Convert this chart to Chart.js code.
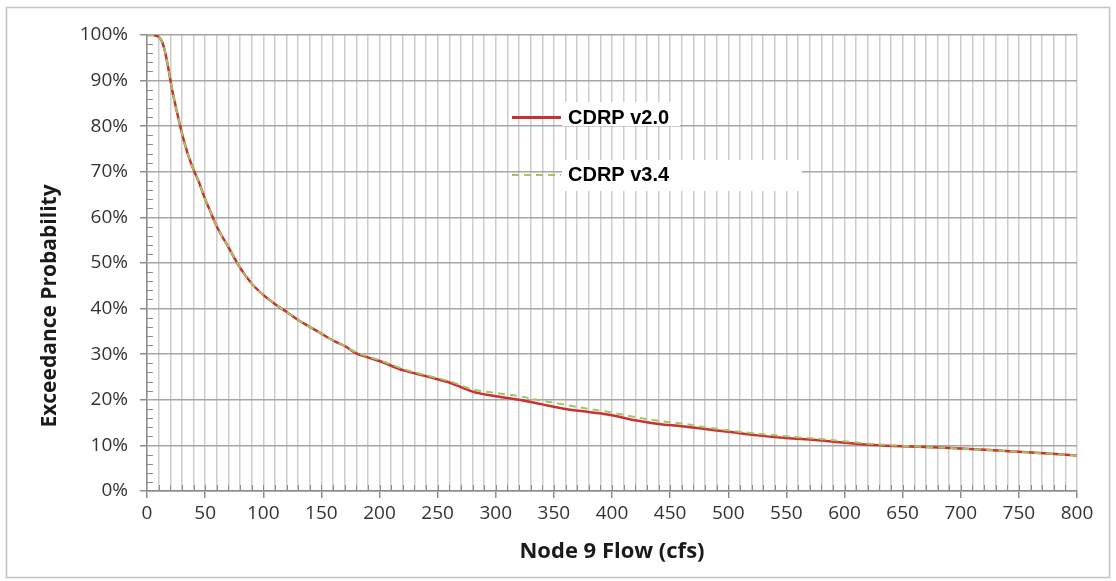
<!DOCTYPE html>
<html>
<head>
<meta charset="utf-8">
<script src="https://cdn.jsdelivr.net/npm/chart.js@4/dist/chart.umd.min.js"></script>
<style>
  html, body { margin: 0; padding: 0; background: #fff; }
  #wrap { width: 1116px; height: 581px; position: relative; }
</style>
</head>
<body>
<div id="wrap"><canvas id="flowChart"></canvas></div>
<script>
// flow (cfs) and exceedance probability (%)
var flow = [0, 5, 8, 10, 12, 14, 16, 18, 20, 22, 25, 30, 35, 40, 45, 50, 55, 60, 70, 80, 90, 100,
            110, 120, 130, 140, 150, 160, 170, 180, 190, 200, 220, 240, 260, 280, 300,
            320, 340, 360, 380, 400, 420, 440, 460, 480, 500, 525, 550, 575, 600, 625,
            650, 675, 700, 725, 750, 775, 800];

var cdrp20 = [100, 100, 99.8, 99.6, 99, 97.8, 95.8, 93.2, 90.3, 87.5, 84, 78.5, 74, 70.5, 67.5, 64, 61, 58, 53.5, 49, 45.5, 43,
              41, 39.3, 37.5, 36, 34.5, 33, 31.8, 30.2, 29.3, 28.5, 26.5, 25.2, 23.8, 21.8, 20.8,
              20, 19, 18, 17.3, 16.6, 15.5, 14.7, 14.2, 13.6, 13.0, 12.2, 11.6, 11.2, 10.6, 10.1,
              9.8, 9.6, 9.3, 9.0, 8.6, 8.2, 7.8];

var cdrp34 = [100, 100, 99.8, 99.6, 99, 97.8, 95.8, 93.2, 90.3, 87.5, 84, 78.5, 74, 70.5, 67.5, 64, 61, 58, 53.5, 49, 45.5, 43,
              41, 39.3, 37.5, 36, 34.5, 33, 31.8, 30.4, 29.5, 28.7, 26.8, 25.4, 24.1, 22.3, 21.5,
              20.8, 19.8, 18.9, 18.0, 17.2, 16.2, 15.4, 14.8, 14.0, 13.3, 12.6, 12.0, 11.5, 10.9, 10.3,
              9.9, 9.6, 9.3, 9.0, 8.6, 8.2, 7.8];

var seriesNames = ['CDRP v2.0', 'CDRP v3.4'];
var xTitle = 'Node 9 Flow (cfs)';
var yTitle = 'Exceedance Probability';

function pts(vals) {
    return flow.map(function(f, i) { return { x: f, y: vals[i] }; });
}

var RED = '#c83232';
var GREEN = '#a9c263';
var tickFont = { family: 'Open Sans', size: 19 };

var extras = {
    id: 'extras',
    afterDraw: function(chart) {
        var c = chart.ctx, xs = chart.scales.x, ys = chart.scales.y, a = chart.chartArea;
        c.save();
        // outer frame
        c.strokeStyle = '#c4c4c4';
        c.lineWidth = 1.5;
        c.strokeRect(6.5, 7.5, 1103, 570);

        // minor inward ticks
        c.strokeStyle = '#8c8c8c';
        c.lineWidth = 1;
        c.beginPath();
        for (var v = 2; v < 100; v += 2) {
            if (v % 10 === 0) continue;
            var py = Math.round(ys.getPixelForValue(v)) + 0.5;
            c.moveTo(a.left, py); c.lineTo(a.left + 6, py);
        }
        for (var f = 10; f < 800; f += 10) {
            var px = Math.round(xs.getPixelForValue(f)) + 0.5;
            c.moveTo(px, a.bottom); c.lineTo(px, a.bottom - 6);
        }
        c.stroke();

        // y title
        c.fillStyle = '#1a1a1a';
        c.font = 'bold 21px "Open Sans"';
        c.textAlign = 'center';
        c.textBaseline = 'middle';
        c.translate(50, 306);
        c.rotate(-Math.PI / 2);
        c.fillText(yTitle, 0, 0);
        c.restore();

        // legend
        c.save();
        c.fillStyle = '#ffffff';
        c.fillRect(562, 102, 118, 24);
        c.fillRect(562, 160, 240, 31);
        c.lineWidth = 3;
        c.strokeStyle = RED;
        c.beginPath(); c.moveTo(512, 117.5); c.lineTo(561, 117.5); c.stroke();
        c.lineWidth = 2;
        c.strokeStyle = GREEN;
        c.setLineDash([7, 5]);
        c.beginPath(); c.moveTo(512, 175); c.lineTo(561, 175); c.stroke();
        c.setLineDash([]);
        c.fillStyle = '#000';
        c.font = 'bold 20px "Liberation Sans"';
        c.textAlign = 'left';
        c.textBaseline = 'alphabetic';
        c.fillText(seriesNames[0], 568, 123.5);
        c.fillText(seriesNames[1], 568, 181);
        c.restore();
    }
};

new Chart(document.getElementById('flowChart'), {
    type: 'line',
    data: {
        datasets: [{
            label: seriesNames[1],
            data: pts(cdrp34),
            borderColor: GREEN,
            borderWidth: 2,
            borderDash: [7, 5],
            pointRadius: 0,
            cubicInterpolationMode: 'monotone',
            order: 0
        }, {
            label: seriesNames[0],
            data: pts(cdrp20),
            borderColor: RED,
            borderWidth: 2.5,
            pointRadius: 0,
            cubicInterpolationMode: 'monotone',
            order: 1
        }]
    },
    options: {
        responsive: true,
        maintainAspectRatio: false,
        animation: false,
        layout: { padding: { top: 35, right: 39, left: 0, bottom: 0 } },
        plugins: { legend: { display: false }, tooltip: { enabled: false } },
        scales: {
            x: {
                type: 'linear',
                min: 0, max: 800,
                afterFit: function(s) { s.height = 90; },
                ticks: {
                    stepSize: 10,
                    autoSkip: false,
                    maxRotation: 0,
                    padding: 4,
                    color: '#333',
                    font: tickFont,
                    callback: function(v) { return v % 50 === 0 ? v : ''; }
                },
                grid: {
                    color: '#cdcdcd',
                    lineWidth: 1.5,
                    tickLength: 7,
                    tickColor: function(ctx) { return ctx.tick && ctx.tick.value % 50 === 0 ? '#8c8c8c' : 'rgba(0,0,0,0)'; }
                },
                border: { color: '#8c8c8c', width: 1.5 },
                title: {
                    display: true,
                    text: xTitle,
                    color: '#1a1a1a',
                    font: { family: 'Open Sans', size: 22, weight: 'bold' },
                    padding: { top: 0, bottom: 16 }
                }
            },
            y: {
                min: 0, max: 100,
                afterFit: function(s) { s.width = 147; },
                ticks: {
                    stepSize: 10,
                    padding: 12,
                    color: '#333',
                    font: tickFont,
                    callback: function(v) { return v + '%'; }
                },
                grid: {
                    color: '#a6a6a6',
                    lineWidth: 1.5,
                    tickLength: 7,
                    tickColor: '#8c8c8c'
                },
                border: { color: '#8c8c8c', width: 1.5 }
            }
        }
    },
    plugins: [extras]
});
</script>
</body>
</html>
